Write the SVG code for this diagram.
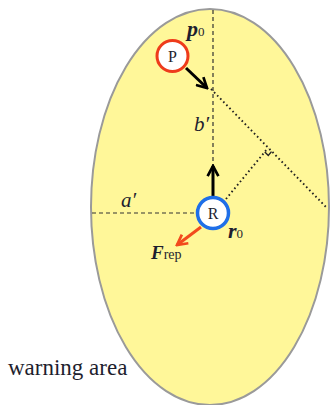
<svg xmlns="http://www.w3.org/2000/svg" width="334" height="405" viewBox="0 0 334 405">
<defs>
<style>
.dash{fill:none;stroke:#333;stroke-width:1.2;stroke-dasharray:4 3}
.dot{fill:none;stroke:#222;stroke-width:1.9;stroke-dasharray:1.6 2.8}
.t{font-family:"Liberation Serif","DejaVu Serif",serif;fill:#1e1e2e}
.bi{font-weight:bold;font-style:italic}
.it{font-style:italic}
.sub{font-weight:normal;font-style:normal}
</style>
<marker id="ah" viewBox="0 0 10 10" refX="8.5" refY="5" markerWidth="4.5" markerHeight="4.5" orient="auto" markerUnits="strokeWidth">
<path d="M1,1 L8.5,5 L1,9" fill="none" stroke="#000" stroke-width="2"/>
</marker>
<marker id="ahr" viewBox="0 0 10 10" refX="8.5" refY="5" markerWidth="4.5" markerHeight="4.5" orient="auto" markerUnits="strokeWidth">
<path d="M1,1 L8.5,5 L1,9" fill="none" stroke="#f24a1d" stroke-width="2"/>
</marker>
</defs>
<g id="warning-area">
<ellipse cx="210" cy="207" rx="119" ry="198" fill="#fff799" stroke="#9a9a9a" stroke-width="2"/>
<text class="t" x="8" y="375" font-size="23">warning area</text>
</g>
<g id="connectors">
<line class="dash" x1="213" y1="10" x2="213" y2="166"/>
<line class="dash" x1="92" y1="213" x2="196" y2="213"/>
<line class="dot" x1="211" y1="89" x2="326" y2="207"/>
<line class="dot" x1="226" y1="199" x2="268" y2="148"/>
<polyline points="271.5,151.6 268.3,155.4 264.8,151.9" fill="none" stroke="#222" stroke-width="1.4"/>
<line x1="213" y1="196" x2="213" y2="166" stroke="#000" stroke-width="3" marker-end="url(#ah)"/>
<line x1="186" y1="68" x2="207" y2="88" stroke="#000" stroke-width="3" marker-end="url(#ah)"/>
<line x1="201" y1="227" x2="177" y2="245" stroke="#f24a1d" stroke-width="3" marker-end="url(#ahr)"/>
</g>
<g id="node-P">
<circle cx="172.5" cy="56" r="15.5" fill="#fff" stroke="#ee3b1b" stroke-width="3"/>
<text class="t" x="172.5" y="61.5" font-size="16" text-anchor="middle">P</text>
</g>
<g id="node-R">
<circle cx="213" cy="213" r="15.5" fill="#fff" stroke="#1f6fe8" stroke-width="3.5"/>
<text class="t" x="213" y="218.5" font-size="16" text-anchor="middle">R</text>
</g>
<g id="labels">
<text class="t bi" x="187" y="36" font-size="22">p<tspan class="sub" font-size="13">0</tspan></text>
<text class="t it" x="194" y="131" font-size="21">b′</text>
<text class="t it" x="121" y="207" font-size="21">a′</text>
<text class="t bi" x="228" y="238" font-size="22">r<tspan class="sub" font-size="13">0</tspan></text>
<text class="t bi" x="151" y="259" font-size="19">F<tspan class="sub" font-size="14">rep</tspan></text>
</g>
</svg>
